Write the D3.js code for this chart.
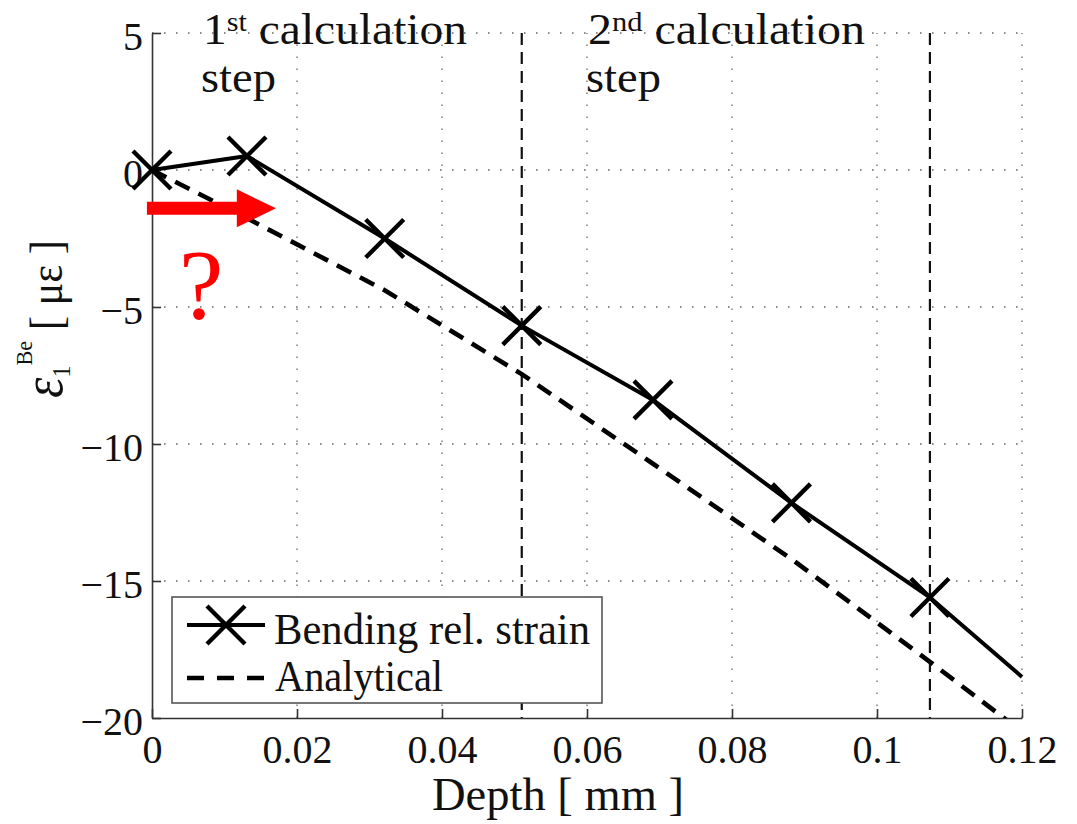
<!DOCTYPE html>
<html>
<head>
<meta charset="utf-8">
<script src="https://cdn.jsdelivr.net/npm/d3@7/dist/d3.min.js"></script>
<style>
  html, body { margin: 0; padding: 0; background: #fff; }
  svg { display: block; }
  text { font-family: "Liberation Serif", "Times New Roman", serif; fill: #111; }
</style>
</head>
<body>
<svg id="chart" width="1077" height="824"></svg>
<script>
// Depth samples [mm] of the bending relaxation strain curve
const depth = [0, 0.0131, 0.0321, 0.0510, 0.0691, 0.0882, 0.1073, 0.12];
// Bending relaxation strain [µε] at each depth
const bendingStrain = [0, 0.51, -2.50, -5.68, -8.39, -12.15, -15.6, -18.5];
// Whether a calculation-step marker sits on the sample
const bendingMarker = [true, true, true, true, true, true, true, false];
// Analytical solution at the same depths
const analytical = [0, -1.76, -4.39, -7.45, -10.72, -14.2, -17.95, -20.5];
// Ends of the calculation steps
const stepBounds = [0.0510, 0.1073];
// Axis ticks
const xTicks = [0, 0.02, 0.04, 0.06, 0.08, 0.1, 0.12];
const xTickLabels = ["0", "0.02", "0.04", "0.06", "0.08", "0.1", "0.12"];
const yTicks = [5, 0, -5, -10, -15, -20];
const yTickLabels = ["5", "0", "\u22125", "\u221210", "\u221215", "\u221220"];
const seriesNames = ["Bending rel. strain", "Analytical"];

const svg = d3.select("#chart");
const plot = { left: 152, right: 1022, top: 33, bottom: 718 };

const x = d3.scaleLinear().domain([0, 0.12]).range([plot.left, plot.right]);
const y = d3.scaleLinear().domain([-20, 5]).range([plot.bottom, plot.top]);

svg.append("defs").append("clipPath").attr("id", "plotClip")
  .append("rect")
  .attr("x", plot.left).attr("y", plot.top)
  .attr("width", plot.right - plot.left).attr("height", plot.bottom - plot.top);

// Dotted grid
const grid = svg.append("g").attr("stroke", "#6a6a6a").attr("stroke-width", 1.3)
  .attr("stroke-dasharray", "1.6,10.4");
grid.selectAll(".gx").data(xTicks.filter(t => t > 0)).join("line")
  .attr("x1", d => x(d)).attr("x2", d => x(d))
  .attr("y1", plot.bottom).attr("y2", plot.top);
grid.selectAll(".gy").data(yTicks.filter(t => t > -20)).join("line")
  .attr("x1", plot.left).attr("x2", plot.right)
  .attr("y1", d => y(d)).attr("y2", d => y(d));

// Step boundaries
svg.append("g").selectAll("line").data(stepBounds).join("line")
  .attr("x1", d => x(d)).attr("x2", d => x(d))
  .attr("y1", plot.top).attr("y2", plot.bottom)
  .attr("stroke", "#111").attr("stroke-width", 2.2)
  .attr("stroke-dasharray", "12,7");

// Axes
const xAxis = d3.axisBottom(x).tickValues(xTicks)
  .tickFormat((d, i) => xTickLabels[i]).tickSizeInner(-9).tickSizeOuter(0).tickPadding(17);
const yAxis = d3.axisLeft(y).tickValues(yTicks)
  .tickFormat((d, i) => yTickLabels[i]).tickSizeInner(-9).tickSizeOuter(0).tickPadding(9);

const gx = svg.append("g").attr("transform", `translate(0,${plot.bottom})`).call(xAxis);
const gy = svg.append("g").attr("transform", `translate(${plot.left},0)`).call(yAxis);
[gx, gy].forEach(g => {
  g.select(".domain").attr("stroke", "#333").attr("stroke-width", 1.6);
  g.selectAll(".tick line").attr("stroke", "#333").attr("stroke-width", 1.6);
  g.selectAll(".tick text").attr("font-size", 40)
    .attr("font-family", "Liberation Serif, Times New Roman, serif").attr("fill", "#111");
});
gy.selectAll(".tick text").attr("dy", "0.4em");

// Analytical curve (dashed)
const lineGen = d3.line().x(d => x(d[0])).y(d => y(d[1]));
svg.append("path")
  .datum(depth.map((d, i) => [d, analytical[i]]))
  .attr("clip-path", "url(#plotClip)")
  .attr("d", lineGen)
  .attr("fill", "none").attr("stroke", "#000").attr("stroke-width", 4.6)
  .attr("stroke-dasharray", "16,10");

// Bending relaxation strain (solid with x markers)
const bendingData = depth.map((d, i) => [d, bendingStrain[i], bendingMarker[i]]);
svg.append("path")
  .datum(bendingData)
  .attr("d", lineGen)
  .attr("fill", "none").attr("stroke", "#000").attr("stroke-width", 4)
  .attr("stroke-linejoin", "round");

const markerHalf = 19;
const crossPath = (cx, cy) =>
  `M${cx - markerHalf},${cy - markerHalf}L${cx + markerHalf},${cy + markerHalf}` +
  `M${cx - markerHalf},${cy + markerHalf}L${cx + markerHalf},${cy - markerHalf}`;
svg.append("g").selectAll("path").data(bendingData.filter(d => d[2])).join("path")
  .attr("d", d => crossPath(x(d[0]), y(d[1])))
  .attr("stroke", "#000").attr("stroke-width", 4.4).attr("fill", "none");

// Calculation-step captions
function stepCaption(px, ordinal, suffix, width) {
  const t = svg.append("text").attr("x", px).attr("y", 43.5).attr("font-size", 44)
    .attr("textLength", width).attr("lengthAdjust", "spacingAndGlyphs");
  t.append("tspan").text(ordinal);
  t.append("tspan").attr("font-size", 28).attr("dy", -13).text(suffix);
  t.append("tspan").attr("dy", 13).text(" calculation");
  svg.append("text").attr("x", px - 2).attr("y", 92).attr("font-size", 44)
    .attr("textLength", 75).attr("lengthAdjust", "spacingAndGlyphs").text("step");
}
stepCaption(203, "1", "st", 264);
stepCaption(588, "2", "nd", 277);

// Axis titles
svg.append("text").attr("x", 432).attr("y", 810).attr("font-size", 46)
  .attr("textLength", 252).attr("lengthAdjust", "spacingAndGlyphs")
  .text("Depth [ mm ]");

const yTitle = svg.append("text")
  .attr("transform", "translate(62,398) rotate(-90)")
  .attr("font-size", 46)
  .attr("textLength", 158).attr("lengthAdjust", "spacingAndGlyphs");
yTitle.append("tspan").attr("font-style", "italic").attr("font-size", 56).text("\u03b5");
yTitle.append("tspan").attr("font-size", 26).attr("dy", 8).text("1");
yTitle.append("tspan").attr("font-size", 24).attr("dy", -38).text("Be");
yTitle.append("tspan").attr("dy", 30).text(" [ \u03bc\u03b5 ]");

// Legend
const legend = svg.append("g");
legend.append("rect").attr("x", 172).attr("y", 597).attr("width", 430).attr("height", 106)
  .attr("fill", "#fff").attr("stroke", "#555").attr("stroke-width", 1.6);
legend.append("line").attr("x1", 187).attr("x2", 265).attr("y1", 625).attr("y2", 625)
  .attr("stroke", "#000").attr("stroke-width", 4);
legend.append("path").attr("d", crossPath(226, 625))
  .attr("stroke", "#000").attr("stroke-width", 4.4);
legend.append("line").attr("x1", 187).attr("x2", 265).attr("y1", 678).attr("y2", 678)
  .attr("stroke", "#000").attr("stroke-width", 4.6).attr("stroke-dasharray", "17,13");
legend.append("text").attr("x", 274).attr("y", 644).attr("font-size", 44)
  .attr("textLength", 316).attr("lengthAdjust", "spacingAndGlyphs").text(seriesNames[0]);
legend.append("text").attr("x", 275).attr("y", 691).attr("font-size", 44)
  .attr("textLength", 168).attr("lengthAdjust", "spacingAndGlyphs").text(seriesNames[1]);

// Red arrow and question mark near the surface
const arrowY = y(-1.4), shaftHalf = 6.5, headHalf = 19;
const a0 = x(-0.0007), aHead = x(0.0117), aTip = x(0.0171);
svg.append("path")
  .attr("d", `M${a0},${arrowY - shaftHalf}L${aHead},${arrowY - shaftHalf}L${aHead},${arrowY - headHalf}` +
             `L${aTip},${arrowY}L${aHead},${arrowY + headHalf}L${aHead},${arrowY + shaftHalf}` +
             `L${a0},${arrowY + shaftHalf}Z`)
  .attr("fill", "#ff0000");
svg.append("text").attr("x", x(0.0068)).attr("y", y(-5.4)).attr("text-anchor", "middle")
  .attr("font-size", 100).style("fill", "#ff0000").text("?");
</script>
</body>
</html>
